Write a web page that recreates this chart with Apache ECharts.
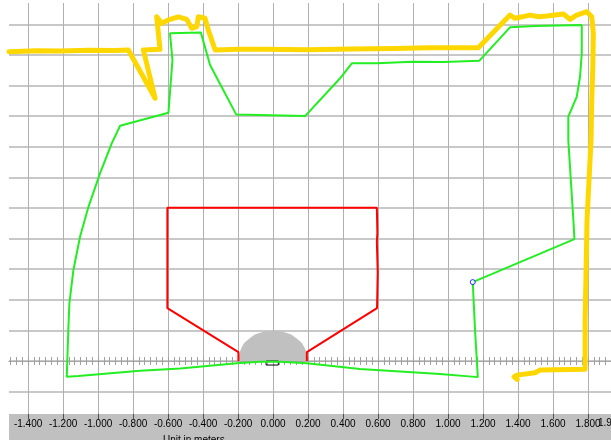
<!DOCTYPE html>
<html>
<head>
<meta charset="utf-8">
<script src="https://cdn.jsdelivr.net/npm/echarts@6/dist/echarts.min.js"></script>
<style>html,body{margin:0;padding:0;background:#fff;}#c{width:611px;height:440px;}</style>
</head>
<body>
<div id="c"></div>
<script>
// ---- data (metres) ----
const xTickValues = [-1.4,-1.2,-1.0,-0.8,-0.6,-0.4,-0.2,0.0,0.2,0.4,0.6,0.8,1.0,1.2,1.4,1.6,1.8];
const xEdgeLabel = '1.931';
const yGridValues = [-0.2,0,0.2,0.4,0.6,0.8,1.0,1.2,1.4,1.6,1.8,2.0,2.2];
const xRange = [-1.509, 1.931];
const yRange = [-0.346, 2.34];
const axisName = 'Unit in meters';

const robotX = [-0.2,-0.18,-0.14,-0.07,0,0.07,0.14,0.18,0.2];
const robotY = [0,0.087,0.143,0.187,0.198,0.187,0.143,0.087,0];

const baseX = [-0.04,-0.04,0.03,0.03,-0.04];
const baseY = [0,-0.026,-0.026,0,0];

const zoneX = [-0.198,-0.198,-0.604,-0.604,0.593,0.596,0.593,0.598,0.594,0.193,0.193];
const zoneY = [0,0.059,0.346,1.002,1.002,0.84,0.78,0.58,0.346,0.059,0];

const pathX = [1.141,1.722,1.716,1.687,1.687,1.735,1.754,1.764,1.764,1.497,1.354,1.179,0.973,0.794,0.593,0.450,0.383,0.183,-0.211,-0.360,-0.413,-0.589,-0.575,-0.598,-0.874,-0.922,-0.989,-1.055,-1.103,-1.141,-1.164,-1.170,-1.179,-1.113,-0.760,-0.531,-0.207,-0.074,0.040,0.193,0.497,0.954,1.170,1.154,1.141];
const pathY = [0.516,0.797,0.922,1.444,1.597,1.727,1.858,2.011,2.196,2.190,2.181,1.963,1.954,1.956,1.946,1.946,1.848,1.601,1.612,1.935,2.148,2.142,1.967,1.623,1.538,1.423,1.227,1.008,0.812,0.595,0.377,0.203,-0.103,-0.098,-0.063,-0.048,-0.015,-0.005,-0.005,-0.015,-0.052,-0.085,-0.105,0.203,0.516];

const traceX = [-1.509,-1.35,-1.217,-1.05,-0.9,-0.827,-0.674,-0.741,-0.646,-0.665,-0.636,-0.598,-0.541,-0.493,-0.465,-0.436,-0.427,-0.389,-0.370,-0.331,-0.2,-0.046,0.2,0.44,0.7,0.897,1.173,1.354,1.383,1.469,1.516,1.564,1.659,1.697,1.735,1.793,1.821,1.830,1.827,1.821,1.817,1.794,1.788,1.783,1.783,1.526,1.497,1.393,1.377,1.396];
const traceY = [2.022,2.028,2.026,2.032,2.030,2.033,1.717,2.033,2.037,2.250,2.207,2.229,2.250,2.233,2.175,2.185,2.250,2.240,2.163,2.033,2.037,2.037,2.035,2.039,2.042,2.048,2.048,2.261,2.240,2.261,2.250,2.255,2.268,2.233,2.261,2.283,2.250,2.142,1.924,1.706,1.444,0.922,0.55,0.268,-0.054,-0.059,-0.076,-0.092,-0.103,-0.120];

const endPoint = [1.141, 0.516];

// ---- helpers ----
const zip = (xs, ys) => xs.map((x, i) => [x, ys[i]]);
const minorTicks = [];
for (let i = 0; i < xTickValues.length - 1; i++) {
  const a = xTickValues[i], b = xTickValues[i + 1];
  for (let k = 0; k < 6; k++) minorTicks.push(+(a + (b - a) * k / 6).toFixed(4));
}
minorTicks.push(xTickValues[xTickValues.length - 1]);
(function(){ const a = xTickValues[0], st = (xTickValues[1]-a)/6;
  for (let k = 1; k < 6; k++) { const v = a - st*k; if (v > xRange[0]) minorTicks.unshift(+v.toFixed(4)); }
  const b = xTickValues[xTickValues.length-1];
  for (let k = 1; k < 6; k++) { const v = b + st*k; if (v < xRange[1]) minorTicks.push(+v.toFixed(4)); }
})();

const chart = echarts.init(document.getElementById('c'), null, {renderer: 'canvas'});
const labelFont = 'Liberation Sans, Arial, sans-serif';
const midAxis = (inside) => ({
  type: 'value', min: xRange[0], max: xRange[1], position: 'bottom',
  axisLine: {show: true, onZero: true, onZeroAxisIndex: 0, lineStyle: {color: '#a8a8a8', width: 1}},
  axisTick: {show: true, inside: inside, length: 4, customValues: minorTicks, lineStyle: {color: '#a0a0a0', width: 1}},
  axisLabel: {show: false}, splitLine: {show: false}
});

chart.setOption({
  animation: false,
  backgroundColor: '#ffffff',
  grid: {left: 9, right: 0, top: 3, bottom: 26, containLabel: false, outerBoundsMode: 'none'},
  graphic: [
    {type: 'rect', z: -10, shape: {x: 9, y: 414, width: 602, height: 26}, style: {fill: '#c0c0c0'}},
    {type: 'text', z: 10, left: 163, top: 435, style: {text: axisName, font: '10px ' + labelFont, fill: '#000'}},
    {type: 'text', z: 10, left: 598, top: 418, style: {text: xEdgeLabel, font: '10px ' + labelFont, fill: '#000'}}
  ],
  xAxis: [
    {
      type: 'value', min: xRange[0], max: xRange[1], position: 'bottom',
      axisLine: {show: false, onZero: false},
      axisTick: {show: true, length: 5, customValues: xTickValues, lineStyle: {color: '#505050'}},
      axisLabel: {show: true, margin: 5, customValues: xTickValues,
        formatter: v => v.toFixed(3), color: '#000', fontSize: 10, fontFamily: labelFont,
        showMinLabel: true, showMaxLabel: true, hideOverlap: false},
      splitLine: {show: true, lineStyle: {color: '#b0b0b0', width: 1}}
    },
    midAxis(false),
    midAxis(true)
  ],
  yAxis: [{
    type: 'value', min: yRange[0], max: yRange[1],
    axisLine: {show: false}, axisLabel: {show: false},
    axisTick: {show: false, customValues: yGridValues},
    splitLine: {show: true, lineStyle: {color: '#c8c8c8', width: 2}}
  }],
  series: [
    {type: 'line', name: 'robot', data: zip(robotX, robotY), smooth: true, symbol: 'none',
     lineStyle: {width: 0, color: '#c0c0c0'}, areaStyle: {color: '#c0c0c0', opacity: 1}, z: 1},
    {type: 'line', name: 'base', data: zip(baseX, baseY), symbol: 'none',
     lineStyle: {width: 1, color: '#000'}, z: 2},
    {type: 'line', name: 'zone', data: zip(zoneX, zoneY), symbol: 'none',
     lineStyle: {width: 2, color: '#ff0000'}, z: 3},
    {type: 'line', name: 'path', data: zip(pathX, pathY), symbol: 'none',
     lineStyle: {width: 2, color: '#22ee22'}, z: 4},
    {type: 'line', name: 'trace', data: zip(traceX, traceY), symbol: 'none',
     lineStyle: {width: 5, color: '#ffd700', cap: 'round', join: 'round'}, z: 5},
    {type: 'scatter', name: 'end', data: [endPoint], symbol: 'circle', symbolSize: 5,
     itemStyle: {color: '#ffffff', borderColor: '#0000ff', borderWidth: 1}, z: 6}
  ]
});
</script>
</body>
</html>
